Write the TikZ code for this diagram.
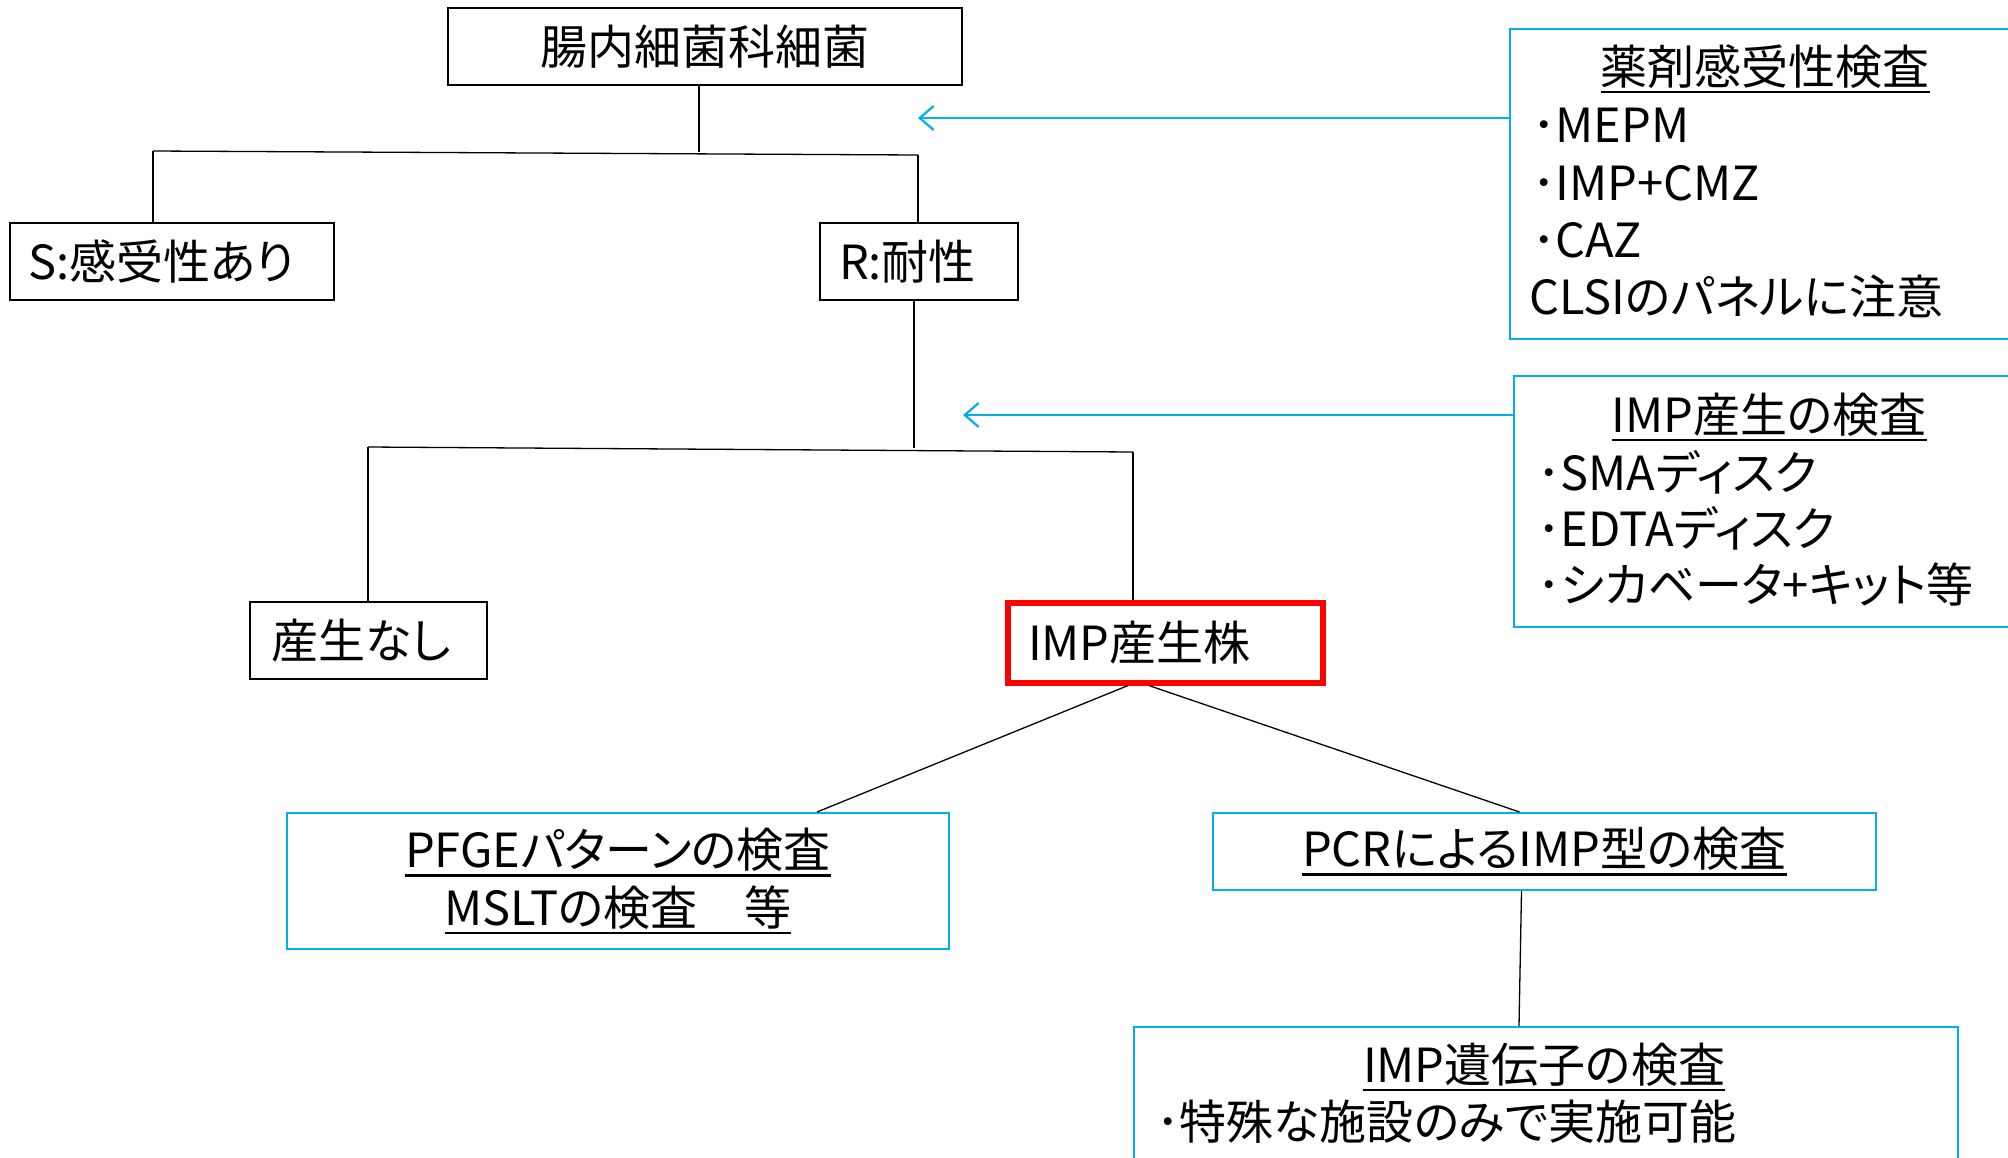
\documentclass[tikz,border=0pt]{standalone}
\usepackage{fontspec}
\setmainfont[RawFeature=+palt]{Noto Sans CJK JP}
\newfontfamily\fullw{Noto Sans CJK JP}
\usetikzlibrary{arrows.meta}
\definecolor{skyb}{RGB}{0,176,240}
\newsavebox\ulbox
\newcommand\myul[1]{\sbox\ulbox{#1}\rlap{\rule[-9pt]{\wd\ulbox}{2.5pt}}\usebox\ulbox}
\begin{document}
\begin{tikzpicture}[x=1pt,y=-1pt,
  every node/.style={font=\fontsize{47}{57.5}\selectfont, inner sep=0pt},
  blackbox/.style={draw=black, line width=2pt, minimum height=77pt},
  bluebox/.style={draw=skyb, line width=2pt},
  redbox/.style={draw=red, line width=5.5pt},
  tline/.style={line width=1.3pt, draw=black},
  arr/.style={draw=skyb, line width=2.2pt, -{Straight Barb[length=14pt,width=24pt,line width=2.2pt]}},
  ttl/.style={anchor=base},
  itm/.style={anchor=base west}]
\useasboundingbox (0,0) rectangle (2008,1157);
\clip (0,0) rectangle (2008,1157);

% tree boxes
\node[blackbox, minimum width=514pt, font=\fontsize{47}{57.5}\fullw] (top) at (705,46.5) {腸内細菌科細菌};
\node[blackbox, text width=288pt, inner xsep=18pt, align=left] (S) at (172,261.5) {S:感受性あり};
\node[blackbox, text width=160pt, inner xsep=19pt, align=left] (R) at (919,261.5) {R:耐性};
\node[blackbox, text width=195pt, inner xsep=21pt, align=left] (none) at (368.5,640.5) {産生なし};
\node[redbox, text width=275pt, inner xsep=20pt, minimum height=80pt, align=left] (imp) at (1165.5,643) {IMP産生株};

\node[bluebox, minimum width=662pt, minimum height=136pt, align=center] (pfge) at (618,881) {\myul{PFGEパターンの検査}\\\myul{MSLTの検査　等}};
\node[bluebox, minimum width=663pt, minimum height=77pt] (pcr) at (1544.5,851.5) {\myul{PCRによるIMP型の検査}};

% gene box
\node[bluebox, minimum width=824pt, minimum height=200pt, anchor=north west] (gene) at (1133,1026) {};
\node[ttl] (g0) at (1544,1082) {\myul{IMP遺伝子の検査}};
\node[itm] (g1) at (1156,1139) {･特殊な施設のみで実施可能};

% drug susceptibility box
\node[bluebox, minimum width=521pt, minimum height=310pt, anchor=north west] (drug) at (1509,28) {};
\node[ttl] (d0) at (1765,84) {\myul{薬剤感受性検査}};
\node[itm] (d1) at (1532,142) {･MEPM};
\node[itm] (d2) at (1532,200) {･IMP+CMZ};
\node[itm] (d3) at (1532,257) {･CAZ};
\node[itm] (d4) at (1529,314) {CLSIのパネルに注意};

% IMP production test box
\node[bluebox, minimum width=520pt, minimum height=251pt, anchor=north west] (imptest) at (1513,375) {};
\node[ttl] (t0) at (1769,432) {\myul{IMP産生の検査}};
\node[itm] (t1) at (1537,490) {･SMAディスク};
\node[itm] (t2) at (1537,546) {･EDTAディスク};
\node[itm] (t3) at (1537,602) {･シカベータ+キット等};

% tree connectors
\coordinate (j1) at (699,152);
\coordinate (b1L) at (153,151);
\coordinate (b1R) at (918,155);
\draw[tline] (j1 |- top.south) -- (j1);
\draw[tline] (b1L) -- (b1R);
\draw[tline] (b1L) -- (b1L |- S.north);
\draw[tline] (b1R) -- (b1R |- R.north);

\coordinate (j2) at (914,448);
\coordinate (b2L) at (368,447);
\coordinate (b2R) at (1133,452);
\draw[tline] (j2 |- R.south) -- (j2);
\draw[tline] (b2L) -- (b2R);
\draw[tline] (b2L) -- (b2L |- none.north);
\draw[tline] (b2R) -- (b2R |- imp.north);

\draw[tline] ([xshift=-38pt]imp.south) -- ([xshift=199pt]pfge.north);
\draw[tline] ([xshift=-16pt]imp.south) -- ([xshift=-25pt]pcr.north);
\draw[tline] ([xshift=-23pt]pcr.south) -- ([xshift=-27pt]gene.north);

% arrows
\coordinate (a1) at (918,118);
\draw[arr] (drug.west |- a1) -- (a1);
\coordinate (a2) at (963,415);
\draw[arr] (imptest.west |- a2) -- (a2);
\end{tikzpicture}
\end{document}
